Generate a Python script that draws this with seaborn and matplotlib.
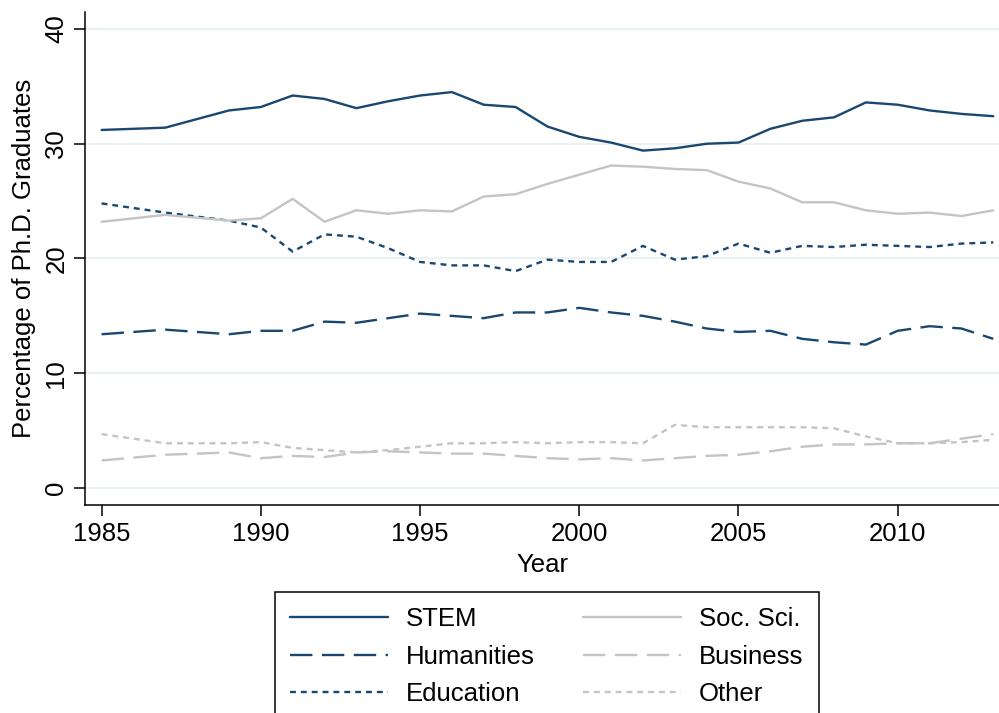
import matplotlib
matplotlib.use("Agg")
import matplotlib.pyplot as plt
import seaborn as sns
import pandas as pd

years = [1985, 1987, 1989, 1990, 1991, 1992, 1993, 1994, 1995, 1996, 1997, 1998, 1999,
         2000, 2001, 2002, 2003, 2004, 2005, 2006, 2007, 2008, 2009, 2010, 2011, 2012, 2013]
stem = [31.2, 31.4, 32.9, 33.2, 34.2, 33.9, 33.1, 33.7, 34.2, 34.5, 33.4, 33.2, 31.5,
        30.6, 30.1, 29.4, 29.6, 30.0, 30.1, 31.3, 32.0, 32.3, 33.6, 33.4, 32.9, 32.6, 32.4]
humanities = [13.4, 13.8, 13.4, 13.7, 13.7, 14.5, 14.4, 14.8, 15.2, 15.0, 14.8, 15.3, 15.3,
              15.7, 15.3, 15.0, 14.5, 13.9, 13.6, 13.7, 13.0, 12.7, 12.5, 13.7, 14.1, 13.9, 13.0]
education = [24.8, 24.0, 23.3, 22.7, 20.6, 22.1, 21.9, 20.9, 19.7, 19.4, 19.4, 18.9, 19.9,
             19.7, 19.7, 21.1, 19.9, 20.2, 21.3, 20.5, 21.1, 21.0, 21.2, 21.1, 21.0, 21.3, 21.4]
socsci = [23.2, 23.8, 23.3, 23.5, 25.2, 23.2, 24.2, 23.9, 24.2, 24.1, 25.4, 25.6, 26.5,
          27.3, 28.1, 28.0, 27.8, 27.7, 26.7, 26.1, 24.9, 24.9, 24.2, 23.9, 24.0, 23.7, 24.2]
business = [2.4, 2.9, 3.1, 2.6, 2.8, 2.7, 3.1, 3.2, 3.1, 3.0, 3.0, 2.8, 2.6,
            2.5, 2.6, 2.4, 2.6, 2.8, 2.9, 3.2, 3.6, 3.8, 3.8, 3.9, 3.9, 4.3, 4.7]
other = [4.7, 3.9, 3.9, 4.0, 3.5, 3.3, 3.1, 3.3, 3.6, 3.9, 3.9, 4.0, 3.9,
         4.0, 4.0, 3.9, 5.5, 5.3, 5.3, 5.3, 5.3, 5.2, 4.5, 3.9, 3.9, 4.0, 4.2]

labels = ["STEM", "Humanities", "Education", "Soc. Sci.", "Business", "Other"]
series = [stem, humanities, education, socsci, business, other]

df = pd.concat([pd.DataFrame({"Year": years, "Pct": v, "Field": lab})
                for lab, v in zip(labels, series)], ignore_index=True)

sns.set_style("white")
plt.rcParams["font.family"] = ["Liberation Sans", "DejaVu Sans"]
plt.rcParams["text.color"] = "black"
plt.rcParams["axes.labelcolor"] = "black"
plt.rcParams["xtick.color"] = "black"
plt.rcParams["ytick.color"] = "black"

NAVY = "#1a476f"
GRAY = "#c4c4c4"
palette = {"STEM": NAVY, "Humanities": NAVY, "Education": NAVY,
           "Soc. Sci.": GRAY, "Business": GRAY, "Other": GRAY}
dashes = {"STEM": "", "Humanities": (9.5, 4.0), "Education": (2.5, 2.1),
          "Soc. Sci.": "", "Business": (9.5, 4.0), "Other": (2.5, 2.1)}

fig = plt.figure(figsize=(9.99, 7.13), dpi=100)
ax = fig.add_axes([0.0851, 0.2917, 0.9149, 0.6915])

sns.lineplot(data=df, x="Year", y="Pct", hue="Field", style="Field",
             palette=palette, dashes=dashes, hue_order=labels, style_order=labels,
             linewidth=1.7, ax=ax, legend=True)

ax.set_xlim(1984.48, 2013.18)
ax.set_ylim(-1.48, 41.48)
ax.set_yticks([0, 10, 20, 30, 40])
ax.set_xticks([1985, 1990, 1995, 2000, 2005, 2010])
ax.yaxis.grid(True, color="#eaf2f3", linewidth=1.4)
ax.xaxis.grid(False)
ax.set_axisbelow(True)

for s in ["top", "right"]:
    ax.spines[s].set_visible(False)
for s in ["left", "bottom"]:
    ax.spines[s].set_color("black")
    ax.spines[s].set_linewidth(1.1)

ax.tick_params(axis="both", direction="out", length=8, width=1.1, color="black",
               labelcolor="black", labelsize=18.5, pad=4, left=True, bottom=True)
for t in ax.get_yticklabels():
    t.set_rotation(90)
    t.set_va("center")

ax.set_xlabel("Year", fontsize=18.5, labelpad=5, color="black")
ax.set_ylabel("Percentage of Ph.D. Graduates", fontsize=18.5, labelpad=6, color="black")

handles, labs = ax.get_legend_handles_labels()
hmap = dict(zip(labs, handles))
ax.get_legend().remove()
leg = fig.legend([hmap[l] for l in labels], labels, ncol=2,
                 loc="upper left", bbox_to_anchor=(0.275, 0.170),
                 fontsize=18.5, frameon=True, fancybox=False,
                 edgecolor="black", handlelength=3.8, handletextpad=0.7,
                 columnspacing=1.9, labelspacing=0.53, borderpad=0.6,
                 borderaxespad=0)
leg.get_frame().set_linewidth(1.1)
leg.get_frame().set_alpha(1)
for t in leg.get_texts():
    t.set_color("black")

fig.savefig("out.png", dpi=100)
